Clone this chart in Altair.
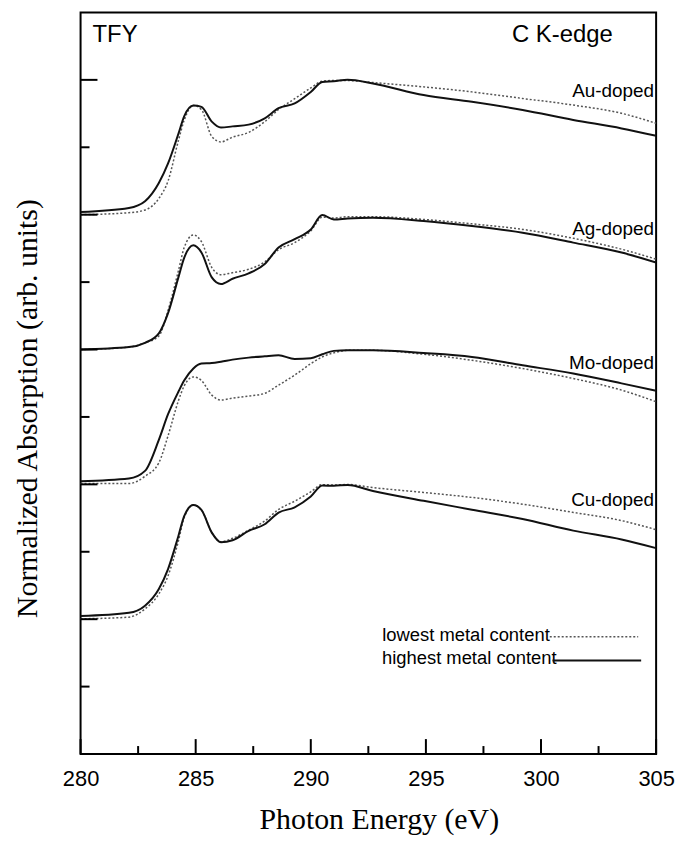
import altair as alt
import pandas as pd

# ---------------- data ----------------
ENERGY = [280.0, 282.1, 282.8, 283.4, 283.8, 284.25, 284.5, 284.9, 285.25, 285.7,
          286.1, 286.6, 287.3, 288.0, 288.6, 289.3, 290.0, 290.5, 291.0, 291.6,
          292.7, 294.9, 297.0, 299.2, 301.4, 303.5, 305.0]

# normalised absorption (0..1) for each sample, highest / lowest metal content
AU_HIGH = [0.02, 0.05, 0.10, 0.235, 0.38, 0.60, 0.73, 0.81, 0.80, 0.69,
           0.646, 0.655, 0.668, 0.715, 0.79, 0.825, 0.91, 0.985, 0.99, 1.0,
           0.973, 0.887, 0.838, 0.777, 0.703, 0.64, 0.585]
AU_LOW = [0.0, 0.015, 0.035, 0.12, 0.25, 0.55, 0.70, 0.81, 0.78, 0.58,
          0.54, 0.575, 0.61, 0.69, 0.78, 0.86, 0.94, 0.99, 0.995, 0.995,
          0.98, 0.948, 0.911, 0.862, 0.813, 0.752, 0.678]
AG_HIGH = [0.0, 0.018, 0.05, 0.12, 0.27, 0.535, 0.68, 0.773, 0.72, 0.535,
           0.486, 0.525, 0.565, 0.635, 0.756, 0.818, 0.89, 0.997, 0.965, 0.972,
           0.977, 0.953, 0.916, 0.866, 0.793, 0.719, 0.645]
AG_LOW = [0.0, 0.018, 0.05, 0.1, 0.29, 0.584, 0.756, 0.85, 0.80, 0.608,
          0.555, 0.57, 0.595, 0.65, 0.74, 0.793, 0.88, 0.982, 0.975, 0.985,
          0.985, 0.965, 0.932, 0.891, 0.825, 0.744, 0.67]
MO_HIGH = [0.023, 0.043, 0.1, 0.33, 0.52, 0.687, 0.77, 0.86, 0.896, 0.9,
           0.91, 0.925, 0.94, 0.95, 0.957, 0.93, 0.935, 0.965, 0.99, 0.994,
           0.994, 0.974, 0.945, 0.883, 0.822, 0.749, 0.694]
MO_LOW = [0.006, 0.006, 0.06, 0.16, 0.36, 0.62, 0.73, 0.797, 0.77, 0.662,
          0.625, 0.64, 0.655, 0.675, 0.736, 0.81, 0.895, 0.945, 0.975, 0.994,
          0.994, 0.965, 0.92, 0.859, 0.785, 0.699, 0.613]
CU_HIGH = [0.023, 0.047, 0.10, 0.224, 0.372, 0.617, 0.765, 0.846, 0.81, 0.642,
           0.57, 0.585, 0.655, 0.704, 0.79, 0.83, 0.91, 0.991, 0.99, 0.995,
           0.951, 0.878, 0.812, 0.743, 0.657, 0.591, 0.527]
CU_LOW = [0.003, 0.015, 0.077, 0.187, 0.322, 0.58, 0.753, 0.846, 0.81, 0.642,
          0.575, 0.60, 0.66, 0.728, 0.814, 0.875, 0.945, 0.998, 0.995, 0.999,
          0.976, 0.94, 0.903, 0.853, 0.792, 0.731, 0.664]

SAMPLES = ["Au-doped", "Ag-doped", "Mo-doped", "Cu-doped"]
OFFSETS = [8, 6, 4, 2]
HIGH = [AU_HIGH, AG_HIGH, MO_HIGH, CU_HIGH]
LOW = [AU_LOW, AG_LOW, MO_LOW, CU_LOW]

X_MAJOR = [280, 285, 290, 295, 300, 305]
X_MINOR = [282.5, 287.5, 292.5, 297.5, 302.5]
Y_MAJOR = [0, 2, 4, 6, 8, 10]
Y_MINOR = [1, 3, 5, 7, 9]

# ---------------- tables ----------------
rows = []
for name, off, hi, lo in zip(SAMPLES, OFFSETS, HIGH, LOW):
    for e, h, l in zip(ENERGY, hi, lo):
        rows.append({"sample": name, "content": "highest", "E": e, "Y": off + 2 * h})
        rows.append({"sample": name, "content": "lowest", "E": e, "Y": off + 2 * l})
df = pd.DataFrame(rows)
df_hi = df[df.content == "highest"]
df_lo = df[df.content == "lowest"]

W, H = 579, 746
xs = alt.Scale(domain=[280, 305], nice=False, zero=False)
ys = alt.Scale(domain=[0, 11], nice=False, zero=False)

x_axis = alt.Axis(
    values=X_MAJOR, ticks=False, tickSize=0, domain=False, grid=False,
    labelFont="Liberation Sans", labelFontSize=22, labelColor="black",
    labelBaseline="alphabetic", labelPadding=32, labelFlush=False,
    labelOverlap=False, labelBound=False, format="d",
    title="Photon Energy (eV)", titleFont="Liberation Serif", titleFontSize=30,
    titleFontWeight="normal", titleColor="black", titleX=300, titleY=75,
    titleAlign="center", titleBaseline="alphabetic",
)
y_axis = alt.Axis(
    labels=False, ticks=False, tickSize=0, domain=False, grid=False,
    title="Normalized Absorption (arb. units)", titleFont="Liberation Serif",
    titleFontSize=30, titleFontWeight="normal", titleColor="black",
    titleX=-44, titleY=398, titleAlign="center", titleBaseline="alphabetic",
)

X = lambda f: alt.X(f, scale=xs, axis=x_axis)
Y = lambda f: alt.Y(f, scale=ys, axis=y_axis)

low_lines = alt.Chart(df_lo).mark_line(
    color="#555555", strokeWidth=1.5, strokeDash=[2, 2], interpolate="monotone"
).encode(x=X("E:Q"), y=Y("Y:Q"), detail="sample:N")

high_lines = alt.Chart(df_hi).mark_line(
    color="#111111", strokeWidth=2, interpolate="monotone"
).encode(x=X("E:Q"), y=Y("Y:Q"), detail="sample:N")

# inward ticks
xmaj = alt.Chart(pd.DataFrame({"t": X_MAJOR})).mark_rule(color="black", strokeWidth=2).encode(
    x=X("t:Q"), y=alt.value(H), y2=alt.value(H - 15))
xmin = alt.Chart(pd.DataFrame({"t": X_MINOR})).mark_rule(color="black", strokeWidth=2).encode(
    x=X("t:Q"), y=alt.value(H), y2=alt.value(H - 8))
ymaj = alt.Chart(pd.DataFrame({"t": Y_MAJOR})).mark_rule(color="black", strokeWidth=2).encode(
    y=Y("t:Q"), x=alt.value(0), x2=alt.value(17))
ymin = alt.Chart(pd.DataFrame({"t": Y_MINOR})).mark_rule(color="black", strokeWidth=2).encode(
    y=Y("t:Q"), x=alt.value(0), x2=alt.value(9))

# sample labels
lab = pd.DataFrame({"E": [304.91] * 4, "Y": [9.739, 7.704, 5.714, 3.679], "text": SAMPLES})
sample_text = alt.Chart(lab).mark_text(
    align="right", baseline="alphabetic", font="Liberation Sans", fontSize=19, color="black"
).encode(x=X("E:Q"), y=Y("Y:Q"), text="text:N")

corner = pd.DataFrame({"E": [280.52, 298.74], "Y": [10.565, 10.565], "text": ["TFY", "C K-edge"]})
corner_text = alt.Chart(corner).mark_text(
    align="left", baseline="alphabetic", font="Liberation Sans", fontSize=24, color="black"
).encode(x=X("E:Q"), y=Y("Y:Q"), text="text:N")

# legend
leg_text_df = pd.DataFrame({"E": [300.38, 300.68], "Y": [1.681, 1.342],
                            "text": ["lowest metal content", "highest metal content"]})
leg_text = alt.Chart(leg_text_df).mark_text(
    align="right", baseline="alphabetic", font="Liberation Sans", fontSize=18.5, color="black"
).encode(x=X("E:Q"), y=Y("Y:Q"), text="text:N")

leg_low = alt.Chart(pd.DataFrame({"a": [300.38], "b": [304.22], "y": [1.74]})).mark_rule(
    color="#555555", strokeWidth=1.5, strokeDash=[2, 2]
).encode(x=X("a:Q"), x2="b:Q", y=Y("y:Q"))
leg_high = alt.Chart(pd.DataFrame({"a": [300.5], "b": [304.35], "y": [1.386]})).mark_rule(
    color="#111111", strokeWidth=2
).encode(x=X("a:Q"), x2="b:Q", y=Y("y:Q"))

chart = alt.layer(
    low_lines, high_lines, xmaj, xmin, ymaj, ymin,
    sample_text, corner_text, leg_text, leg_low, leg_high,
).properties(
    width=W, height=H,
    padding={"left": 73, "top": 2, "right": 20, "bottom": 80},
    autosize=alt.AutoSizeParams(type="none"),
    background="white",
).configure_view(stroke="black", strokeWidth=2)

chart.save("out.html", embed_options={"renderer": "svg", "actions": False})
